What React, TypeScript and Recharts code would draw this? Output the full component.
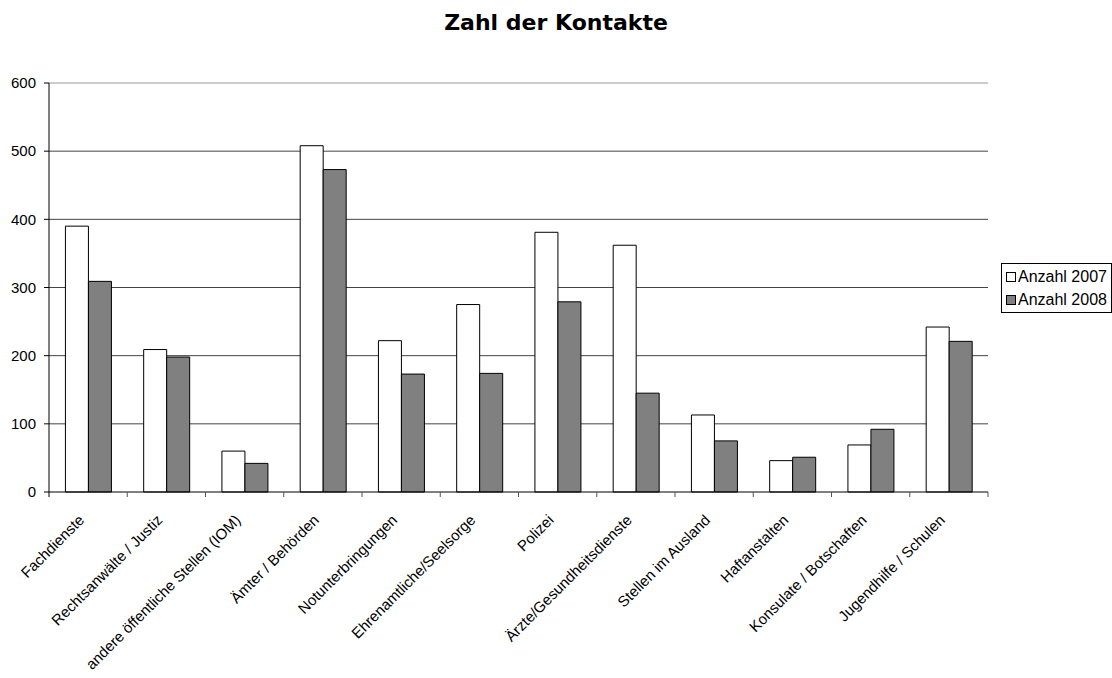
import { BarChart, Bar, XAxis, YAxis, CartesianGrid, Legend, ReferenceLine } from 'recharts';

const categories = [
  'Fachdienste',
  'Rechtsanwälte / Justiz',
  'andere öffentliche Stellen (IOM)',
  'Ämter / Behörden',
  'Notunterbringungen',
  'Ehrenamtliche/Seelsorge',
  'Polizei',
  'Ärzte/Gesundheitsdienste',
  'Stellen im Ausland',
  'Haftanstalten',
  'Konsulate / Botschaften',
  'Jugendhilfe / Schulen',
];
const anzahl2007 = [390, 209, 60, 508, 222, 275, 381, 362, 113, 46, 69, 242];
const anzahl2008 = [309, 198, 42, 473, 173, 174, 279, 145, 75, 51, 92, 221];
const yTicks = [0, 100, 200, 300, 400, 500, 600];
const gridValues = [100, 200, 300, 400, 500];

const data = categories.map((name, i) => ({
  name,
  a2007: anzahl2007[i],
  a2008: anzahl2008[i],
}));

const W = 1112;
const H = 678;
const PLOT_LEFT = 49;
const PLOT_RIGHT = 988;
const BAND = (PLOT_RIGHT - PLOT_LEFT) / categories.length;
const FONT = '"Liberation Sans", Arial, sans-serif';

// category label rotated -45deg plus tick marks on the category boundaries
const CategoryTick = (props: any) => {
  const { x, y, payload, index } = props;
  const half = BAND / 2;
  const lx = x - 3;
  const ly = y + 21;
  return (
    <g>
      {index === 0 && <line x1={x - half} y1={y - 8} x2={x - half} y2={y - 3} stroke="#000" />}
      <line x1={x + half} y1={y - 8} x2={x + half} y2={y - 3} stroke="#555" />
      <text
        x={lx}
        y={ly}
        textAnchor="end"
        transform={`rotate(-45, ${lx}, ${ly})`}
        fontSize={15}
        fontFamily={FONT}
        fill="#000"
      >
        {payload.value}
      </text>
    </g>
  );
};

const LegendBox = () => (
  <div
    style={{
      border: '1px solid #000',
      background: '#fff',
      padding: '1px 0 1px 4px',
      fontFamily: FONT,
      fontSize: 16,
      width: 111,
      boxSizing: 'border-box',
      whiteSpace: 'nowrap',
      overflow: 'hidden',
    }}
  >
    {[
      { label: 'Anzahl 2007', fill: '#fff' },
      { label: 'Anzahl 2008', fill: '#808080' },
    ].map((e) => (
      <div key={e.label} style={{ display: 'flex', alignItems: 'center', height: 23 }}>
        <span
          style={{
            display: 'inline-block',
            width: 8,
            height: 8,
            border: '1px solid #000',
            background: e.fill,
            marginRight: 2,
            flexShrink: 0,
          }}
        />
        {e.label}
      </div>
    ))}
  </div>
);

const App = () => {
  return (
    <div style={{ position: 'absolute', left: 0, top: 0, width: W, height: H, background: '#fff', overflow: 'hidden' }}>
      <div
        style={{
          position: 'absolute',
          left: 0,
          top: 10,
          width: W,
          textAlign: 'center',
          fontFamily: '"DejaVu Sans", Verdana, sans-serif',
          fontWeight: 'bold',
          fontSize: 22,
        }}
      >
        Zahl der Kontakte
      </div>
      <BarChart
        width={W}
        height={H}
        data={data}
        margin={{ top: 83, right: W - PLOT_RIGHT, bottom: 0, left: 0 }}
        barCategoryGap="21%"
        barGap={0}
      >
        <CartesianGrid vertical={false} stroke="#444" horizontalValues={gridValues} />
        <ReferenceLine y={600} stroke="#999" ifOverflow="extendDomain" />
        <XAxis
          dataKey="name"
          interval={0}
          height={186}
          stroke="#000"
          tickLine={false}
          tick={<CategoryTick />}
        />
        <YAxis
          domain={[0, 600]}
          ticks={yTicks}
          width={PLOT_LEFT}
          stroke="#000"
          tickSize={5}
          tickMargin={8}
          tick={{ fontSize: 15, fontFamily: FONT, fill: '#000' }}
        />
        <YAxis yAxisId="right" orientation="right" width={0} stroke="#999" tick={false} tickLine={false} />
        <Legend
          layout="vertical"
          align="center"
          verticalAlign="middle"
          content={<LegendBox />}
          wrapperStyle={{ left: 1001, top: 263, width: 111 }}
        />
        <Bar dataKey="a2007" name="Anzahl 2007" fill="#fff" stroke="#000" strokeWidth={1} isAnimationActive={false} />
        <Bar dataKey="a2008" name="Anzahl 2008" fill="#808080" stroke="#000" strokeWidth={1} isAnimationActive={false} />
      </BarChart>
    </div>
  );
};

export default App;
